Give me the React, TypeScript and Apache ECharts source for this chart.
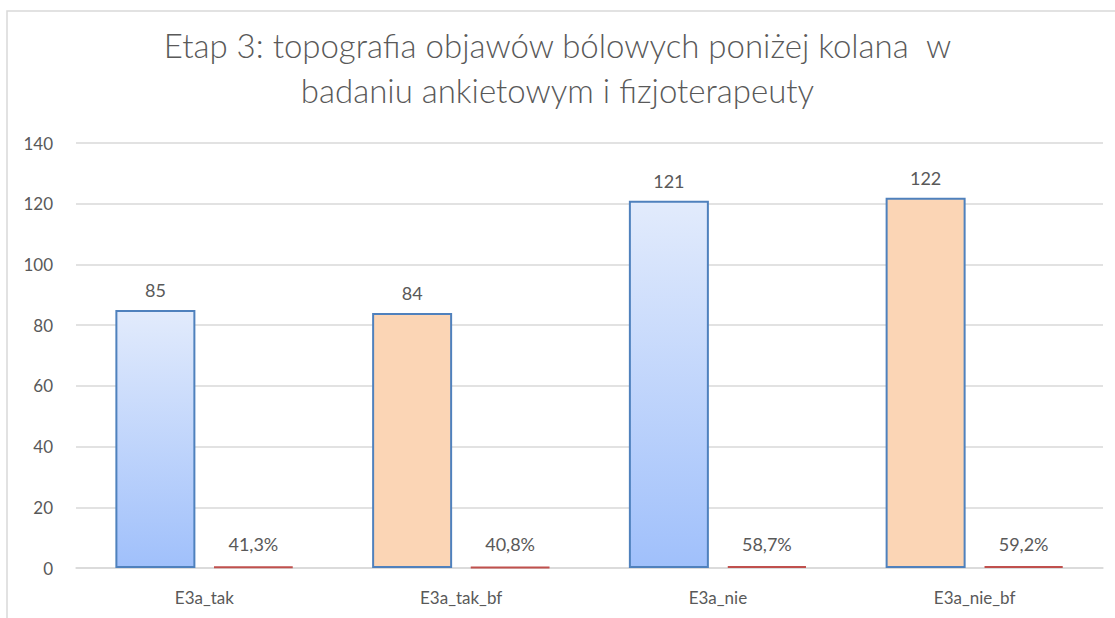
import React, { useEffect, useRef } from "react";
import * as echarts from "echarts";

const categories = ["E3a_tak", "E3a_tak_bf", "E3a_nie", "E3a_nie_bf"];
const counts = [85, 84, 121, 122];
const shares = [0.413, 0.408, 0.587, 0.592];
const yTicks = { min: 0, max: 140, interval: 20 };
const titleText = "Etap 3: topografia objawów bólowych poniżej kolana  w\nbadaniu ankietowym i fizjoterapeuty";

const blueFill = () =>
  new echarts.graphic.LinearGradient(0, 0, 0, 1, [
    { offset: 0, color: "#e2ebfc" },
    { offset: 1, color: "#a0c0fb" },
  ]);
const peachFill = "#fbd5b5";

export default function App() {
  const ref = useRef<HTMLDivElement>(null);
  useEffect(() => {
    if (!ref.current) return;
    const chart = echarts.init(ref.current, undefined, { renderer: "svg" });
    const font = "Lato, 'Open Sans', sans-serif";
    chart.setOption({
      animation: false,
      backgroundColor: "#ffffff",
      textStyle: { fontFamily: font },
      title: {
        text: titleText,
        left: "center",
        top: 17,
        textStyle: {
          fontFamily: font,
          fontSize: 33,
          fontWeight: 300,
          color: "#595959",
          lineHeight: 45,
        },
      },
      graphic: [
        {
          type: "rect",
          shape: { x: 7, y: 11, width: 1200, height: 700 },
          style: { fill: "none", stroke: "#d9d9d9", lineWidth: 1.5 },
          silent: true,
          z: -1,
        },
      ],
      grid: { left: 76, right: 12, top: 143, bottom: 50, containLabel: false },
      xAxis: {
        type: "category",
        data: categories,
        axisLine: { show: true, lineStyle: { color: "#d9d9d9", width: 1.5 } },
        axisTick: { show: false },
        axisLabel: { color: "#595959", fontSize: 17, margin: 21, fontFamily: font },
      },
      yAxis: {
        type: "value",
        min: yTicks.min,
        max: yTicks.max,
        interval: yTicks.interval,
        axisLine: { show: false },
        axisTick: { show: false },
        splitLine: { lineStyle: { color: "#d9d9d9", width: 1.5 } },
        axisLabel: { color: "#595959", fontSize: 17, margin: 23, fontFamily: font },
      },
      series: [
        {
          type: "bar",
          barWidth: 80,
          barGap: "22.5%",
          data: counts.map((v, i) => ({
            value: v,
            itemStyle: {
              color: i % 2 === 0 ? blueFill() : peachFill,
              borderColor: "#4f81bd",
              borderWidth: 2,
            },
          })),
          label: {
            show: true,
            position: "top",
            distance: 11,
            color: "#595959",
            fontSize: 18,
            fontFamily: font,
          },
        },
        {
          type: "bar",
          barWidth: 80,
          data: shares,
          itemStyle: { color: "#c0504d", borderColor: "#c0504d", borderWidth: 2 },
          label: {
            show: true,
            position: "top",
            distance: 13,
            color: "#595959",
            fontSize: 18,
            fontFamily: font,
            formatter: (p: any) => (p.value * 100).toFixed(1).replace(".", ",") + "%",
          },
        },
      ],
    });
    return () => chart.dispose();
  }, []);
  return (
    <div
      ref={ref}
      style={{ position: "fixed", left: 0, top: 0, width: 1115, height: 618 }}
    />
  );
}
